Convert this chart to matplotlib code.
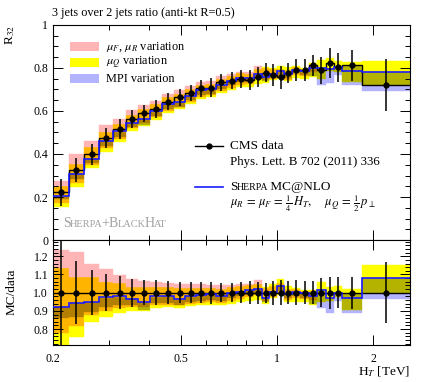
import numpy as np
import matplotlib
matplotlib.use("Agg")
import matplotlib.pyplot as plt
from matplotlib.patches import Rectangle
from matplotlib.lines import Line2D
from matplotlib.ticker import MultipleLocator, FuncFormatter

plt.rcParams['font.family'] = ['Liberation Serif', 'DejaVu Serif']
plt.rcParams['mathtext.fontset'] = 'stix'

nan = np.nan

# H_T bin edges [TeV]
edges = [0.2, 0.224, 0.25, 0.279, 0.308, 0.339, 0.369, 0.401, 0.437, 0.477,
         0.518, 0.558, 0.600, 0.646, 0.697, 0.746, 0.797, 0.849, 0.899, 0.946,
         1.0, 1.055, 1.116, 1.182, 1.257, 1.335, 1.419, 1.502, 1.593, 1.847, 2.6]

# CMS data R32 and relative uncertainty
r32_data = [0.221, 0.325, 0.398, 0.473, 0.515, 0.562, 0.590, 0.611, 0.644, 0.664,
            0.683, 0.705, 0.709, 0.733, 0.741, 0.749, 0.744, 0.758, 0.779, 0.767,
            0.756, 0.777, 0.791, 0.789, 0.812, 0.789, 0.823, 0.803, 0.812, 0.722]
rel_err = [0.29, 0.174, 0.125, 0.100, 0.089, 0.076, 0.068, 0.069, 0.062, 0.058,
           0.056, 0.058, 0.060, 0.053, 0.053, 0.056, 0.064, 0.061, 0.055, 0.065,
           0.070, 0.062, 0.067, 0.064, 0.062, 0.078, 0.087, 0.085, 0.087, 0.167]

# Sherpa MC@NLO, as ratio MC/data
mc_ratio = [0.923, 0.941, 0.950, 0.974, 0.980, 0.968, 0.950, 0.980, 0.980, 0.968,
            0.980, 0.987, 0.991, 0.982, 0.996, 1.005, 1.015, 1.018, 0.973, 1.005,
            1.037, 0.993, 1.002, 0.996, 0.984, 1.015, 0.969, 1.000, 0.969, 1.079]

# variation bands (ratio MC/data)
muFR_hi = [1.234, 1.225, 1.158, 1.128, 1.097, 1.073, 1.066, 1.058, 1.052, 1.048,
           1.046, 1.045, 1.042, 1.040, 1.040, 1.045, 1.050, 1.070, 1.025, 1.035,
           1.055, 1.020, 1.020, 1.010, 1.010, nan, nan, nan, nan, nan]
muFR_lo = [0.777, 0.817, 0.877, 0.901, 0.914, 0.923, 0.923, 0.935, 0.935, 0.930,
           0.940, 0.945, 0.950, 0.945, 0.955, 0.965, 0.975, 0.985, 0.955, 0.975,
           0.995, 0.960, 0.970, 0.965, 0.960, nan, nan, nan, nan, nan]
muQ_hi = [1.134, 1.088, 1.088, 1.060, 1.051, 1.033, 1.033, 1.033, 1.030, 1.025,
          1.025, 1.025, 1.025, 1.020, 1.030, 1.035, 1.040, 1.050, 1.033, 1.045,
          1.073, 1.035, 1.025, 1.015, 1.015, 1.060, 1.030, 1.035, 1.020, 1.151]
muQ_lo = [0.700, 0.758, 0.841, 0.868, 0.886, 0.901, 0.901, 0.914, 0.920, 0.915,
          0.925, 0.930, 0.935, 0.930, 0.940, 0.950, 0.955, 0.960, 0.940, 0.970,
          0.990, 0.950, 0.950, 0.950, 0.935, 0.950, 0.955, 0.975, 0.905, 1.000]
mpi_hi = [0.923, 0.941, 0.950, 0.969, 0.978, 0.969, 0.950, 0.978, 0.980, 0.968,
          0.980, 0.987, 0.991, 0.982, 0.996, 1.005, 1.015, 1.018, 0.973, 1.005,
          1.037, 0.993, 1.002, 0.996, 0.990, 1.015, 0.970, 1.003, 1.000, 1.079]
mpi_lo = [0.859, 0.868, 0.896, 0.923, 0.932, 0.932, 0.905, 0.941, 0.945, 0.935,
          0.950, 0.955, 0.960, 0.955, 0.970, 0.980, 0.990, 0.995, 0.950, 0.980,
          1.010, 0.970, 0.980, 0.970, 0.940, 0.914, 0.890, 0.955, 0.890, 0.963]

PINK = (1.0, 0.71, 0.71)
YELLOW = (1.0, 1.0, 0.0)
LAV = (0.70, 0.70, 1.0)

edges = np.array(edges)
data = np.array(r32_data)
err = np.array(rel_err)
centers = np.sqrt(edges[:-1] * edges[1:])


def draw_bands(ax, scale):
    # overlapping bands combine like multiplied colours
    for i in range(len(edges) - 1):
        bands = []
        for lo, hi, col in ((muFR_lo, muFR_hi, PINK), (muQ_lo, muQ_hi, YELLOW),
                            (mpi_lo, mpi_hi, LAV)):
            if not np.isnan(lo[i]):
                bands.append((lo[i] * scale[i], hi[i] * scale[i], col))
        cuts = sorted({v for b in bands for v in b[:2]})
        for a, b in zip(cuts[:-1], cuts[1:]):
            m = 0.5 * (a + b)
            c = np.ones(3)
            hit = False
            for lo, hi, col in bands:
                if lo <= m <= hi:
                    c = c * np.array(col)
                    hit = True
            if hit:
                ax.fill_between([edges[i], edges[i + 1]], a, b, color=c,
                                lw=0.3, edgecolor=c, zorder=1)


def small_caps(ax, x, y, pieces, size, **kw):
    r = ax.figure.canvas.get_renderer()
    t = ax.text(x, y, pieces[0][0], fontsize=size * pieces[0][1], va='baseline',
                transform=ax.transAxes, **kw)
    yd = ax.transAxes.transform((x, y))[1]
    for txt, sc in pieces[1:]:
        bb = t.get_window_extent(r)
        xa, ya = ax.transAxes.inverted().transform((bb.x1 - 1.0, yd))
        t = ax.text(xa, ya, txt, fontsize=size * sc, va='baseline',
                    transform=ax.transAxes, **kw)


fig = plt.figure(figsize=(4.23, 3.82), dpi=100)
ax = fig.add_axes([0.1253, 0.3717, 0.844, 0.5629])
rax = fig.add_axes([0.1253, 0.0969, 0.844, 0.2748])

# main panel
draw_bands(ax, data)
ax.stairs(data, edges, color='k', lw=1.0, baseline=None, zorder=3)
ax.stairs(np.array(mc_ratio) * data, edges, color='#1a1aff', lw=1.2,
          baseline=None, zorder=4)
ax.errorbar(centers, data, yerr=err * data, fmt='o', color='k', ms=3.5,
            lw=1.1, capsize=0, zorder=5)

# ratio panel
draw_bands(rax, np.ones(len(data)))
rax.stairs(np.ones(len(data)), edges, color='k', lw=1.0, baseline=None, zorder=3)
rax.stairs(mc_ratio, edges, color='#1a1aff', lw=1.2, baseline=None, zorder=4)
rax.errorbar(centers, np.ones(len(data)), yerr=err, fmt='o', color='k', ms=3.5,
             lw=1.1, capsize=0, zorder=5)

for a in (ax, rax):
    a.set_xscale('log')
    a.set_xlim(0.2, 2.6)
    a.set_xticks([0.2, 0.5, 1, 2])
    a.set_xticks([0.3, 0.4, 0.6, 0.7, 0.8, 0.9], minor=True)
    a.tick_params(which='both', direction='in', top=True, right=True,
                  labelsize=8.5, width=0.7)
    a.tick_params(which='major', length=7)
    a.tick_params(which='minor', length=3.5)
    for s in a.spines.values():
        s.set_linewidth(0.8)

ax.set_ylim(0, 1)
ax.yaxis.set_major_locator(MultipleLocator(0.2))
ax.yaxis.set_minor_locator(MultipleLocator(0.05))
ax.yaxis.set_major_formatter(FuncFormatter(lambda v, p: '%g' % round(v, 2)))
ax.tick_params(labelbottom=False)

rax.set_ylim(0.713, 1.289)
rax.yaxis.set_major_locator(MultipleLocator(0.1))
rax.yaxis.set_minor_locator(MultipleLocator(0.02))
rax.yaxis.set_major_formatter(FuncFormatter(lambda v, p: '%.1f' % v))
rax.set_xticklabels(['0.2', '0.5', '1', '2'])
rax.xaxis.set_minor_formatter(FuncFormatter(lambda v, p: ''))
rax.tick_params(axis='x', pad=6)

fig.text(0.122, 0.967, '3 jets over 2 jets ratio (anti-kt R=0.5)', fontsize=8.8,
         va='center', ha='left')
fig.text(0.024, 0.935, r'R$_{32}$', fontsize=9.5, rotation=90, va='top', ha='center')
fig.text(0.028, 0.235, 'MC/data', fontsize=9.5, rotation=90, va='center', ha='center')
fig.text(0.969, 0.027, r'H$_T$ [TeV]', fontsize=9.5, va='center', ha='right')

# legend: variation bands
band_labels = [r'$\mu_F$, $\mu_R$ variation', r'$\mu_Q$ variation', 'MPI variation']
band_cols = [PINK, YELLOW, LAV]
for k, (lab, col) in enumerate(zip(band_labels, band_cols)):
    yc = 0.898 - 0.0745 * k
    ax.add_patch(Rectangle((0.0476, yc - 0.021), 0.0812, 0.042, color=col,
                           transform=ax.transAxes, lw=0, zorder=6))
    ax.text(0.1485, yc, lab, fontsize=8.8, va='center', ha='left',
            transform=ax.transAxes)

# legend: data and MC
ax.add_line(Line2D([0.398, 0.475], [0.4386, 0.4386], color='k', lw=1.0,
                   transform=ax.transAxes))
ax.add_line(Line2D([0.4366], [0.4386], color='k', marker='o', ms=3.5,
                   transform=ax.transAxes))
ax.text(0.4958, 0.4386, 'CMS data', fontsize=9.5, va='center', transform=ax.transAxes)
ax.text(0.4958, 0.362, 'Phys. Lett. B 702 (2011) 336', fontsize=9.3, va='center',
        transform=ax.transAxes)
ax.add_line(Line2D([0.398, 0.475], [0.245, 0.245], color='#1a1aff', lw=1.2,
                   transform=ax.transAxes))
small_caps(ax, 0.4958, 0.231, [('S', 1.0), ('HERPA', 0.75), (' MC@NLO', 1.0)], 9.5)
ax.text(0.4958, 0.170,
        r'$\mu_R\, =\, \mu_F\, =\, \frac{1}{4}\,H_T,\ \ \ \ \mu_Q\, =\, \frac{1}{2}\,p_\perp$',
        fontsize=9, va='center', transform=ax.transAxes)

small_caps(ax, 0.028, 0.062, [('S', 1.0), ('HERPA', 0.75), ('+B', 1.0),
                              ('LACK', 0.75), ('H', 1.0), ('AT', 0.75)], 10,
           color='#a0a0a0')

fig.savefig('out.png', dpi=100)
